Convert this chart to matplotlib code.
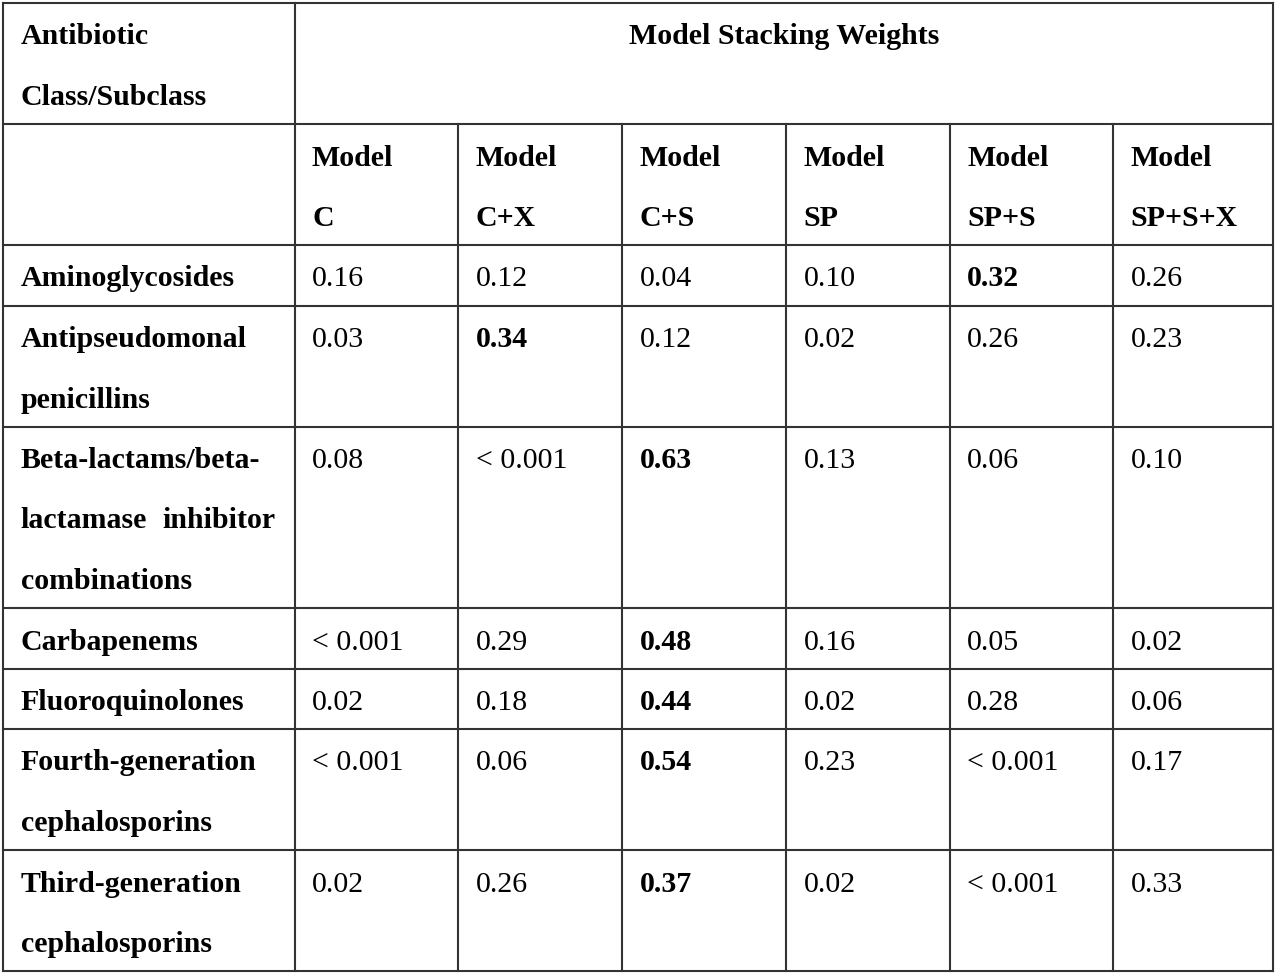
import matplotlib
matplotlib.use("Agg")
import matplotlib.pyplot as plt
from matplotlib import font_manager

# ---- data ----
header_left = ["Antibiotic", "Class/Subclass"]
header_span = "Model Stacking Weights"
models = [["Model", "C"], ["Model", "C+X"], ["Model", "C+S"],
          ["Model", "SP"], ["Model", "SP+S"], ["Model", "SP+S+X"]]
classes = [
    ["Aminoglycosides"],
    ["Antipseudomonal", "penicillins"],
    ["Beta-lactams/beta-", "lactamase inhibitor", "combinations"],
    ["Carbapenems"],
    ["Fluoroquinolones"],
    ["Fourth-generation", "cephalosporins"],
    ["Third-generation", "cephalosporins"],
]
weights = [
    ["0.16", "0.12", "0.04", "0.10", "0.32", "0.26"],
    ["0.03", "0.34", "0.12", "0.02", "0.26", "0.23"],
    ["0.08", "< 0.001", "0.63", "0.13", "0.06", "0.10"],
    ["< 0.001", "0.29", "0.48", "0.16", "0.05", "0.02"],
    ["0.02", "0.18", "0.44", "0.02", "0.28", "0.06"],
    ["< 0.001", "0.06", "0.54", "0.23", "< 0.001", "0.17"],
    ["0.02", "0.26", "0.37", "0.02", "< 0.001", "0.33"],
]

# ---- layout ----
W, H = 1280, 976
col_edges = [3, 294.5, 458, 622, 786, 949.5, 1113, 1273]
line_h = 60.5
top = 3
pad_x = 17.5
base_off = 41.5
fs = 21.5
lc = "#333333"
lw = 1.5

names = {f.name for f in font_manager.fontManager.ttflist}
serif_choice = [n for n in ["Liberation Serif", "Nimbus Roman", "Times New Roman"] if n in names]
plt.rcParams["font.family"] = "serif"
plt.rcParams["font.serif"] = serif_choice + ["DejaVu Serif"]

fig = plt.figure(figsize=(W / 100, H / 100), dpi=100)
ax = fig.add_axes([0, 0, 1, 1])
ax.set_xlim(0, W)
ax.set_ylim(H, 0)
ax.axis("off")

row_tops = [top]
nlines = [2, 2] + [len(c) for c in classes]
for n in nlines:
    row_tops.append(row_tops[-1] + n * line_h)


def put(x, y, s, bold=False, ha="left"):
    ax.text(x, y, s, fontsize=fs, fontweight="bold" if bold else "normal",
            ha=ha, va="baseline", color="black")


# grid lines
for i, y in enumerate(row_tops):
    ax.plot([col_edges[0], col_edges[-1]], [y, y], color=lc, lw=lw, solid_capstyle="projecting")
for j, x in enumerate(col_edges):
    if j in (0, 1, len(col_edges) - 1):
        ax.plot([x, x], [row_tops[0], row_tops[-1]], color=lc, lw=lw)
    else:
        ax.plot([x, x], [row_tops[1], row_tops[-1]], color=lc, lw=lw)

# header row
for k, s in enumerate(header_left):
    put(col_edges[0] + pad_x, row_tops[0] + base_off + k * line_h, s, bold=True)
put((col_edges[1] + col_edges[-1]) / 2, row_tops[0] + base_off, header_span, bold=True, ha="center")

# models row
for j, m in enumerate(models):
    for k, s in enumerate(m):
        put(col_edges[j + 1] + pad_x, row_tops[1] + base_off + k * line_h, s, bold=True)


def val(s):
    return 0.0 if s.startswith("<") else float(s)


# data rows
for i, (cls, vals) in enumerate(zip(classes, weights)):
    rt = row_tops[i + 2]
    for k, s in enumerate(cls):
        y = rt + base_off + k * line_h
        words = s.split(" ")
        if k < len(cls) - 1 and len(words) > 1:
            put(col_edges[0] + pad_x, y, words[0], bold=True)
            put(col_edges[1] - 19, y, words[-1], bold=True, ha="right")
        else:
            put(col_edges[0] + pad_x, y, s, bold=True)
    mx = max(val(v) for v in vals)
    for j, v in enumerate(vals):
        put(col_edges[j + 1] + pad_x, rt + base_off, v, bold=(val(v) == mx))

fig.savefig("out.png", dpi=100)
